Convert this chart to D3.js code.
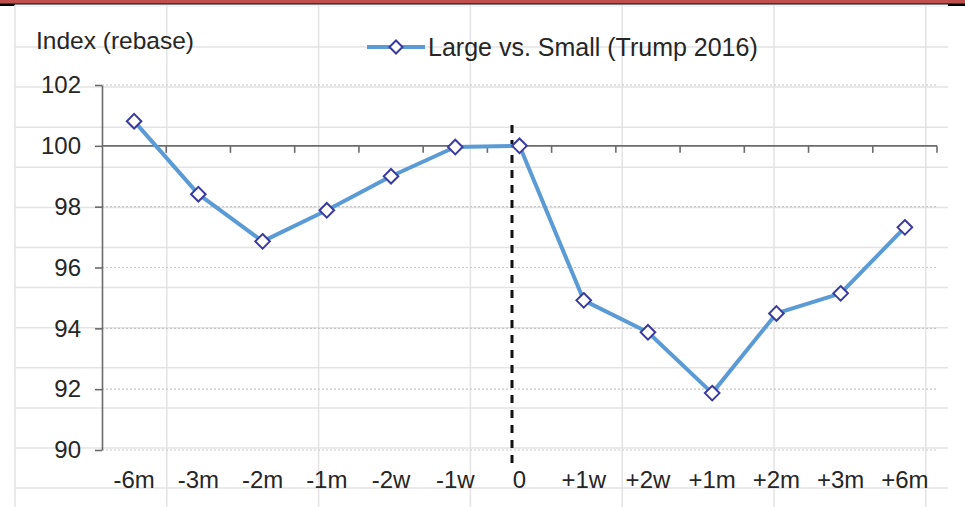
<!DOCTYPE html>
<html>
<head>
<meta charset="utf-8">
<script src="https://cdn.jsdelivr.net/npm/d3@7"></script>
<style>
  html, body { margin: 0; padding: 0; background: #fff; }
  svg { display: block; }
  text { font-family: "Liberation Sans", Arial, sans-serif; fill: #262626; }
</style>
</head>
<body>
<svg id="chart" width="965" height="507"></svg>
<script>
// Relative performance of large vs. small caps around the 2016 election
const categories = ["-6m", "-3m", "-2m", "-1m", "-2w", "-1w", "0", "+1w", "+2w", "+1m", "+2m", "+3m", "+6m"];
const largeVsSmall = [100.81, 98.41, 96.86, 97.88, 99.0, 99.96, 100.0, 94.92, 93.87, 91.87, 94.49, 95.15, 97.32];
const yTicks = [90, 92, 94, 96, 98, 100, 102];
const seriesName = "Large vs. Small (Trump 2016)";
const yTitle = "Index (rebase)";
const eventCategory = "0";

const W = 965, H = 507;
const svg = d3.select("#chart");

// Page frame: red band with a black rule beneath, white sheet on top
svg.append("rect").attr("x", 0).attr("y", 0).attr("width", W).attr("height", 6).attr("fill", "#000");
svg.append("rect").attr("x", 0).attr("y", 0).attr("width", W).attr("height", 3.5).attr("fill", "#C0504D");
svg.append("rect").attr("x", 15).attr("y", 4.5).attr("width", 933).attr("height", H).attr("fill", "#fff");

// Worksheet cell grid behind the chart
const sheet = svg.append("g").attr("stroke", "#e3e3e3").attr("stroke-width", 1.5);
d3.range(0, 12).forEach(i => {
  const gy = 47 + i * 40.1;
  sheet.append("line").attr("x1", 15).attr("x2", 948).attr("y1", gy).attr("y2", gy);
});
sheet.append("line").attr("x1", 15).attr("x2", 948).attr("y1", 6).attr("y2", 6).attr("stroke", "#f0f0f0");
d3.range(0, 7).forEach(i => {
  const gx = 15 + i * 151.8;
  sheet.append("line").attr("x1", gx).attr("x2", gx).attr("y1", 5).attr("y2", H);
});

// Plot area
const plotLeft = 102, plotRight = 937, plotTop = 85, plotBottom = 450;
const x = d3.scaleBand().domain(categories).range([plotLeft, plotRight]).padding(0);
const y = d3.scaleLinear().domain([90, 102]).range([plotBottom, plotTop]);
const xc = c => x(c) + x.bandwidth() / 2;

// Dotted horizontal gridlines
svg.append("g")
  .selectAll("line")
  .data(yTicks.filter(v => v !== 100))
  .join("line")
  .attr("x1", plotLeft).attr("x2", plotRight)
  .attr("y1", d => y(d)).attr("y2", d => y(d))
  .attr("stroke", "#c8c8c8").attr("stroke-width", 1.2)
  .attr("stroke-dasharray", "2,2");

// Value axis
const yAxis = svg.append("g")
  .attr("transform", `translate(${plotLeft},0)`)
  .call(d3.axisLeft(y).tickValues(yTicks).tickSize(7).tickPadding(14).tickSizeOuter(0));
yAxis.select(".domain").attr("stroke", "#6b6b6b").attr("stroke-width", 1.6);
yAxis.selectAll(".tick line").attr("stroke", "#6b6b6b").attr("stroke-width", 1.6);
yAxis.selectAll(".tick text")
  .attr("font-size", 24).attr("fill", "#262626")
  .style("font-family", '"Liberation Sans", Arial, sans-serif');

// Category axis crossing at 100, ticks between categories
const axisY = y(100);
svg.append("line").attr("x1", plotLeft).attr("x2", plotRight).attr("y1", axisY).attr("y2", axisY)
  .attr("stroke", "#6b6b6b").attr("stroke-width", 1.6);
svg.append("g")
  .selectAll("line")
  .data(categories)
  .join("line")
  .attr("x1", d => x(d) + x.bandwidth())
  .attr("x2", d => x(d) + x.bandwidth())
  .attr("y1", axisY).attr("y2", axisY + 7)
  .attr("stroke", "#6b6b6b").attr("stroke-width", 1.6);

// Category labels along the bottom
svg.append("g")
  .selectAll("text")
  .data(categories)
  .join("text")
  .attr("x", d => xc(d))
  .attr("y", 488)
  .attr("text-anchor", "middle")
  .attr("font-size", 24)
  .text(d => d);

// Event marker: dashed vertical line at the election
const eventX = xc(eventCategory) - 7.5;
svg.append("line")
  .attr("x1", eventX).attr("x2", eventX)
  .attr("y1", 125).attr("y2", 467)
  .attr("stroke", "#111").attr("stroke-width", 3)
  .attr("stroke-dasharray", "8,7");

// Series line
const line = d3.line().x((d, i) => xc(categories[i])).y(d => y(d));
svg.append("path")
  .datum(largeVsSmall)
  .attr("d", line)
  .attr("fill", "none")
  .attr("stroke", "#5B9BD5")
  .attr("stroke-width", 4)
  .attr("stroke-linejoin", "round");

// Diamond markers
const diamond = (cx, cy, r) => `M${cx},${cy - r}L${cx + r},${cy}L${cx},${cy + r}L${cx - r},${cy}Z`;
svg.append("g")
  .selectAll("path")
  .data(largeVsSmall)
  .join("path")
  .attr("d", (d, i) => diamond(xc(categories[i]), y(d), 7.3))
  .attr("fill", "#fff")
  .attr("stroke", "#3A3A9E")
  .attr("stroke-width", 2);

// Axis title
svg.append("text").attr("x", 36).attr("y", 49).attr("font-size", 24.5).text(yTitle);

// Legend
const lg = svg.append("g");
lg.append("line").attr("x1", 367).attr("x2", 425).attr("y1", 47).attr("y2", 47)
  .attr("stroke", "#5B9BD5").attr("stroke-width", 4);
lg.append("path").attr("d", diamond(396, 47, 6.5))
  .attr("fill", "#fff").attr("stroke", "#3A3A9E").attr("stroke-width", 2);
lg.append("text").attr("x", 428).attr("y", 56).attr("font-size", 25).text(seriesName);
</script>
</body>
</html>
